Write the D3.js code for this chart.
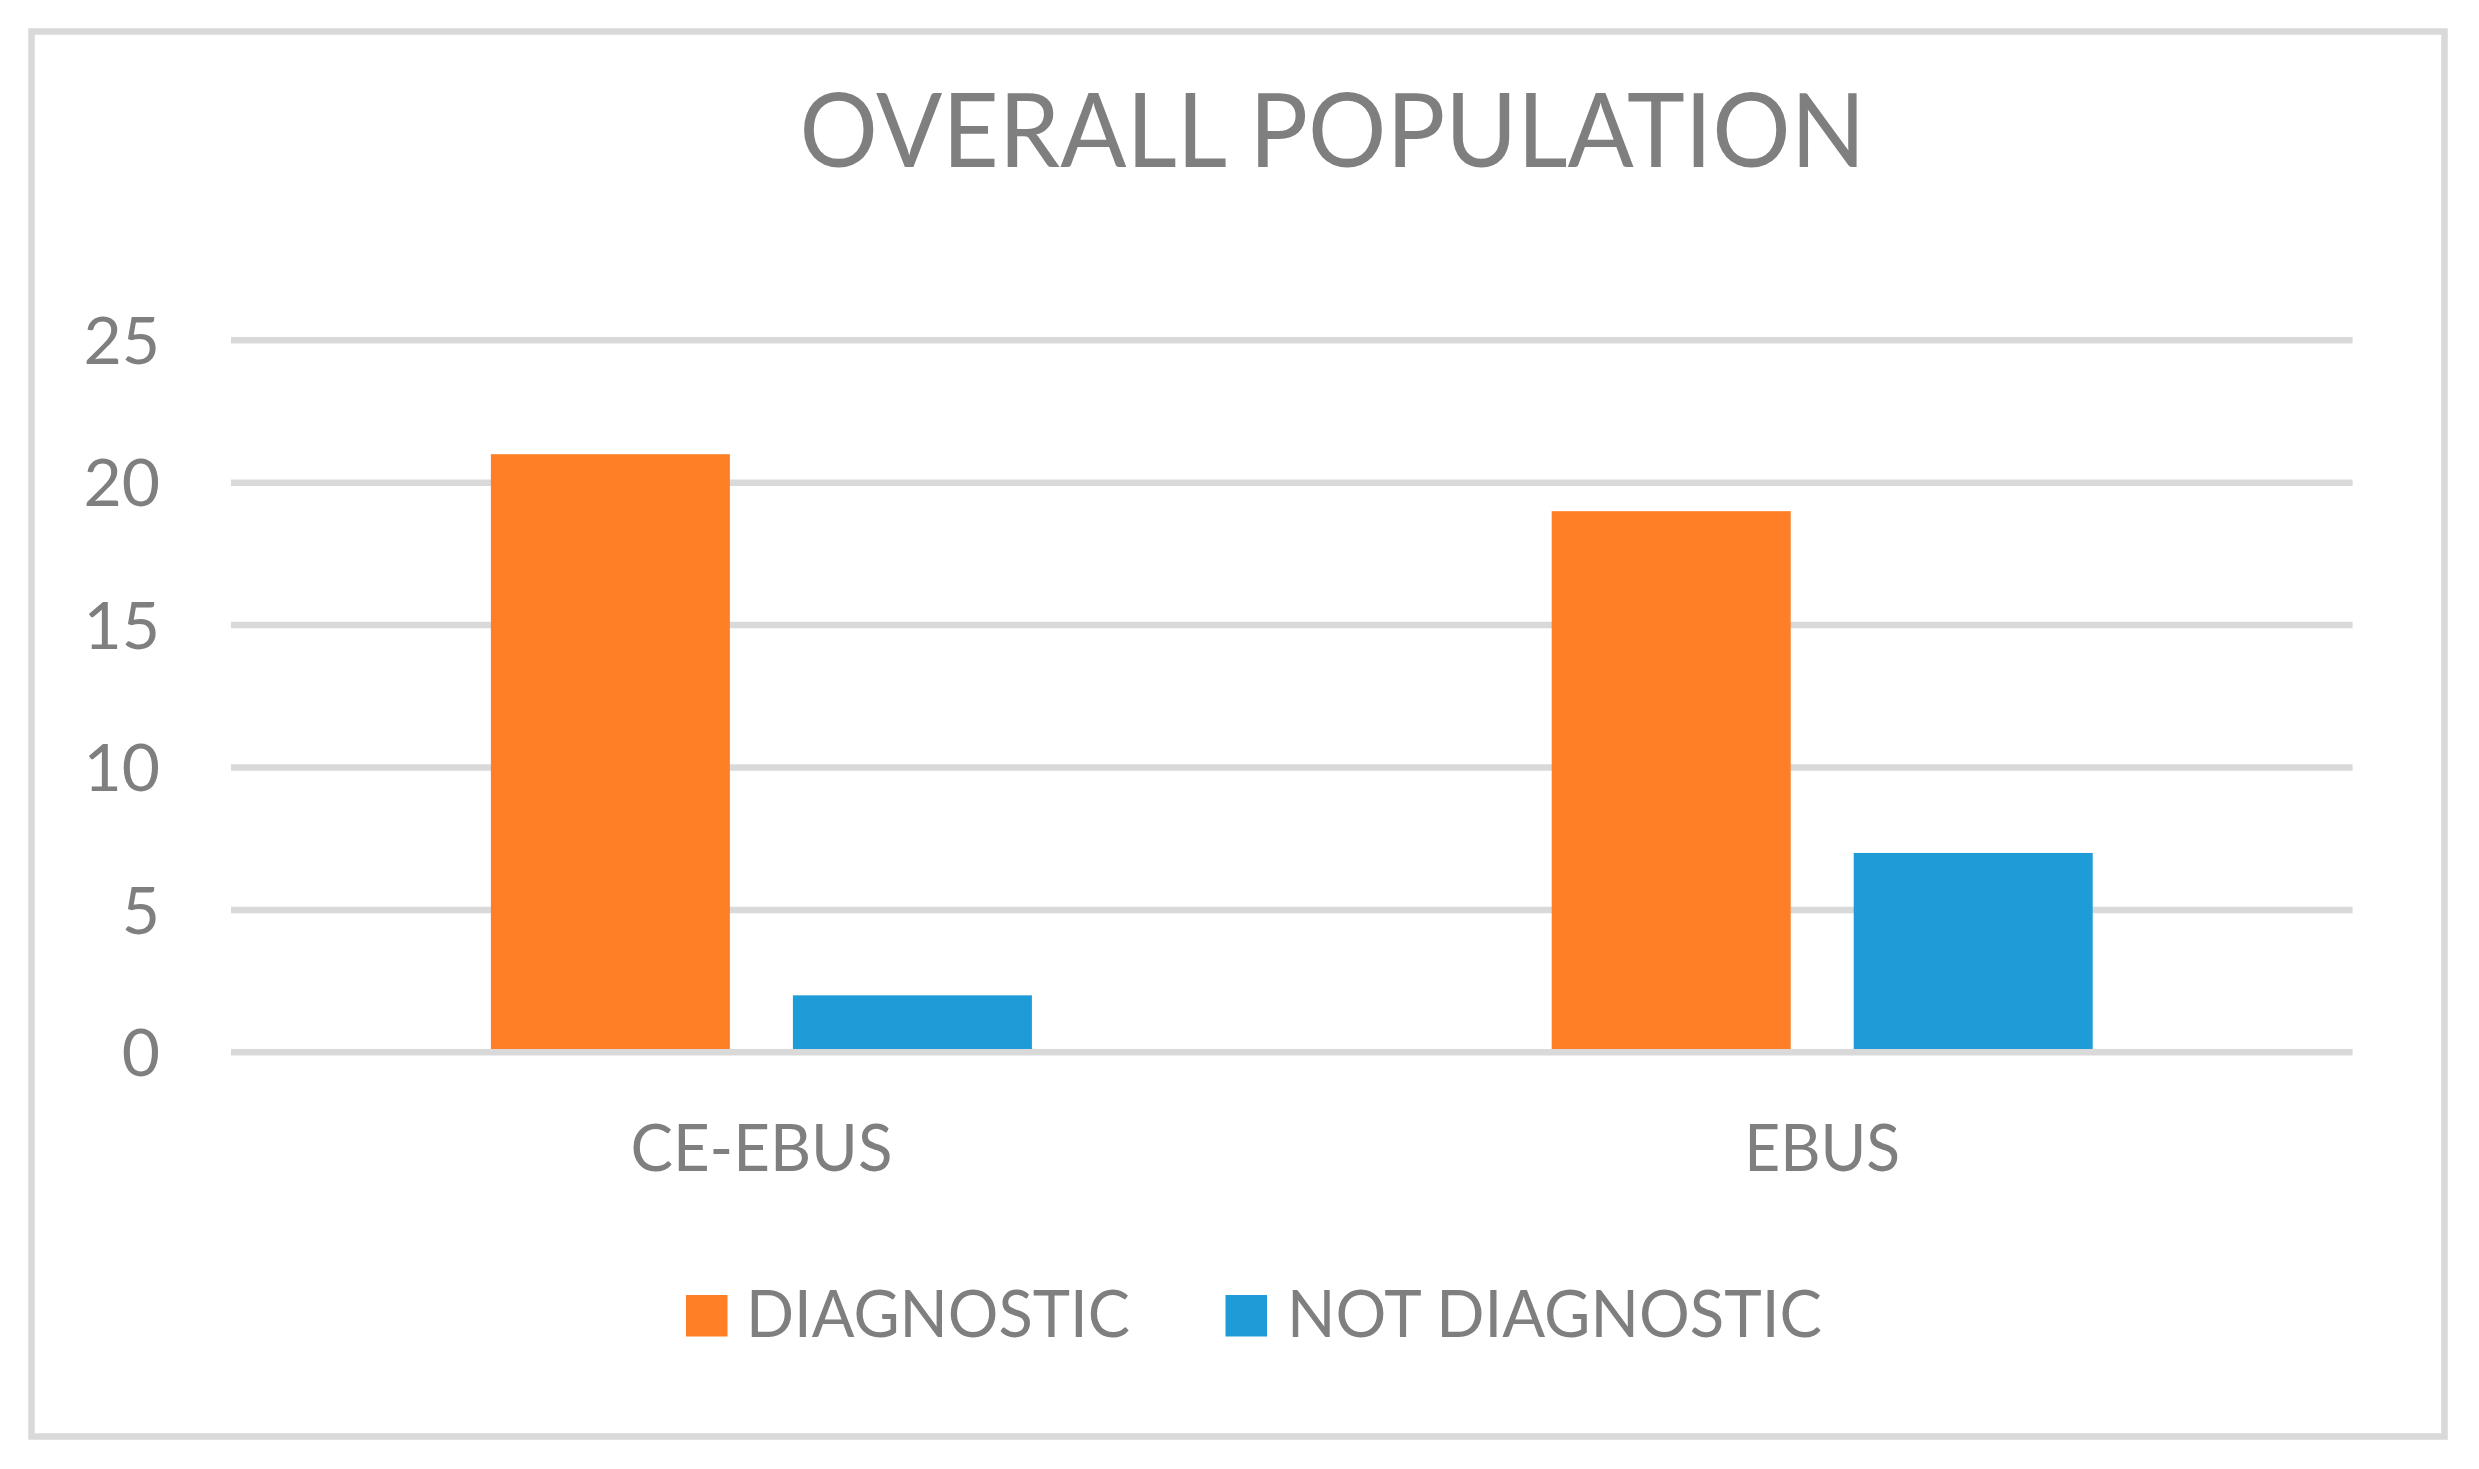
<!DOCTYPE html>
<html>
<head>
<meta charset="utf-8">
<script src="https://cdn.jsdelivr.net/npm/d3@7"></script>
<style>
  html, body { margin: 0; padding: 0; background: #ffffff; }
  svg { display: block; }
  text { font-family: Lato, "Open Sans", sans-serif; fill: #7f7f7f; }
</style>
</head>
<body>
<script>
const categories = ["CE-EBUS", "EBUS"];
const seriesNames = ["DIAGNOSTIC", "NOT DIAGNOSTIC"];
const diagnostic = [21, 19];
const notDiagnostic = [2, 7];
const yTicks = [0, 5, 10, 15, 20, 25];
const titleText = "OVERALL POPULATION";

const seriesColors = ["#ff7f27", "#1e9cd8"];
const W = 2479, H = 1469;

const svg = d3.select("body").append("svg").attr("width", W).attr("height", H);
svg.append("rect").attr("width", W).attr("height", H).attr("fill", "#ffffff");

// chart frame
svg.append("rect")
  .attr("x", 31.5).attr("y", 31.5).attr("width", 2413).attr("height", 1405)
  .attr("fill", "#ffffff").attr("stroke", "#d9d9d9").attr("stroke-width", 6.5);

// title
svg.append("text")
  .attr("x", 1332.5).attr("y", 167.3)
  .attr("text-anchor", "middle")
  .attr("font-size", 102)
  .attr("textLength", 1066).attr("lengthAdjust", "spacingAndGlyphs")
  .text(titleText);

const plotLeft = 231, plotRight = 2352.6;
const y = d3.scaleLinear().domain([0, 25]).range([1052.3, 340.3]);
const x0 = d3.scaleBand().domain(categories).range([plotLeft, plotRight])
  .paddingInner(0.49).paddingOuter(0.245);
const x1 = d3.scaleBand().domain(seriesNames).range([0, x0.bandwidth()])
  .paddingInner(0.2086).paddingOuter(0);

// gridlines (non-zero)
svg.append("g").selectAll("line").data(yTicks.filter(d => d !== 0)).join("line")
  .attr("x1", plotLeft).attr("x2", plotRight)
  .attr("y1", d => y(d)).attr("y2", d => y(d))
  .attr("stroke", "#d9d9d9").attr("stroke-width", 6.5);

// bars
const rows = categories.map((c, i) => ({ cat: c, vals: [diagnostic[i], notDiagnostic[i]] }));
const groups = svg.append("g").selectAll("g").data(rows).join("g")
  .attr("transform", d => `translate(${x0(d.cat)},0)`);
groups.selectAll("rect").data(d => d.vals.map((v, j) => ({ s: seriesNames[j], v, j }))).join("rect")
  .attr("x", d => x1(d.s))
  .attr("width", x1.bandwidth())
  .attr("y", d => y(d.v))
  .attr("height", d => y(0) - y(d.v))
  .attr("fill", d => seriesColors[d.j]);

// zero line on top
svg.append("line")
  .attr("x1", plotLeft).attr("x2", plotRight)
  .attr("y1", y(0)).attr("y2", y(0))
  .attr("stroke", "#d9d9d9").attr("stroke-width", 6.5);

// y axis labels
const yAxis = svg.append("g").attr("transform", "translate(160,0)")
  .call(d3.axisLeft(y).tickValues(yTicks).tickSize(0).tickPadding(0));
yAxis.select(".domain").remove();
yAxis.selectAll("text")
  .attr("font-size", 66).attr("font-family", "Lato, 'Open Sans', sans-serif")
  .attr("fill", "#7f7f7f").attr("dy", "0.35em");

// x axis labels
const xLabelWidths = { "CE-EBUS": 262, "EBUS": 156 };
const xAxis = svg.append("g").attr("transform", "translate(0,1170.7)")
  .call(d3.axisBottom(x0).tickSize(0).tickPadding(0));
xAxis.select(".domain").remove();
xAxis.selectAll("text")
  .attr("font-size", 66).attr("font-family", "Lato, 'Open Sans', sans-serif")
  .attr("fill", "#7f7f7f").attr("dy", 0).attr("y", 0)
  .attr("textLength", d => xLabelWidths[d]).attr("lengthAdjust", "spacingAndGlyphs");

// legend
const legendItems = [
  { name: seriesNames[0], color: seriesColors[0], sx: 686, tx: 746, tw: 384 },
  { name: seriesNames[1], color: seriesColors[1], sx: 1225.5, tx: 1287, tw: 535 }
];
const lg = svg.append("g");
lg.selectAll("rect").data(legendItems).join("rect")
  .attr("x", d => d.sx).attr("y", 1295).attr("width", 41.5).attr("height", 41.5)
  .attr("fill", d => d.color);
lg.selectAll("text").data(legendItems).join("text")
  .attr("x", d => d.tx).attr("y", 1336.5)
  .attr("font-size", 66)
  .attr("textLength", d => d.tw).attr("lengthAdjust", "spacingAndGlyphs")
  .text(d => d.name);
</script>
</body>
</html>
